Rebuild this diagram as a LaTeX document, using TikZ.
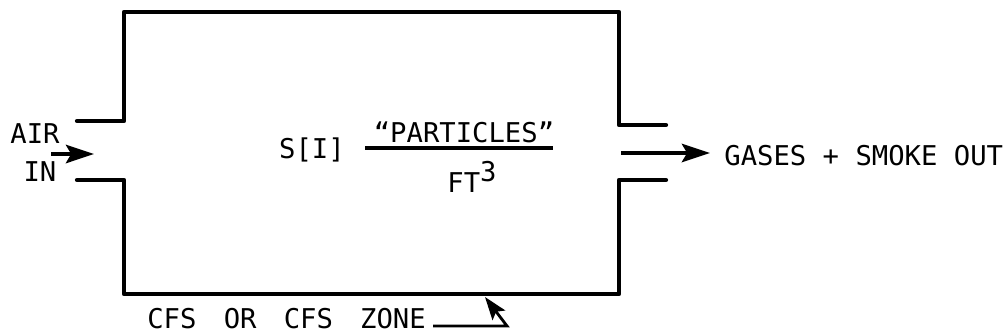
\documentclass[tikz,border=0pt]{standalone}
\usepackage{fontspec}
\setmonofont{DejaVu Sans Mono}
\usetikzlibrary{arrows.meta, positioning}
\tikzset{
  lbl/.style={font=\ttfamily\fontsize{15.5}{18}\selectfont, inner sep=0pt},
  wall/.style={line width=2.4pt, line cap=round, line join=round},
  flow/.style={-{Stealth[length=16pt, width=10.5pt, inset=3pt]}, line width=2pt},
  ptr/.style={-{Stealth[length=13pt, width=9pt, inset=2.5pt]}, line width=1.6pt},
  bar/.style={line width=2.4pt},
}

\begin{document}
\begin{tikzpicture}[x=0.02cm, y=-0.02cm]
\useasboundingbox (0,0) rectangle (1005,335);

% zone walls with inlet and outlet
\draw[wall] (77,121) -- (124,121) -- (124,12) -- (619,12) -- (619,125) -- (666,125);
\draw[wall] (77,180) -- (124,180) -- (124,294) -- (619,294) -- (619,180) -- (666,180);

% inlet
\node[lbl] (air) at (35,134) {AIR};
\node[lbl] (in) at (40,172) {IN};
\coordinate (intail) at (51,154);
\coordinate (intip) at (94,154);
\draw[flow] (intail) -- (intip);

% outlet
\coordinate (outtail) at (621,153);
\node[lbl, anchor=west] (out) at (724,156) {GASES + SMOKE OUT};
\draw[flow, shorten >=8pt] (outtail) -- (out.west |- outtail);

% concentration
\node[lbl] (conc) at (312,150) {S[I]};
\node[lbl] (num) at (464,132) {“PARTICLES”};
\node[lbl] (den) at (472,177) {FT\raisebox{0.42em}{3}};
\coordinate (barl) at (365,148);
\coordinate (barr) at (553,148);
\draw[bar] (barl) -- (barr);

% zone label
\node[lbl, anchor=west] (zone) at (147,319)
  {CFS\hspace{1em}OR\hspace{1em}CFS\hspace{1em}ZONE};
\coordinate (zonebend) at (507,326);
\coordinate (zonetip) at (485,297);
\draw[ptr, shorten <=4pt] (zone.east |- zonebend) -- (zonebend) -- (zonetip);
\end{tikzpicture}
\end{document}
